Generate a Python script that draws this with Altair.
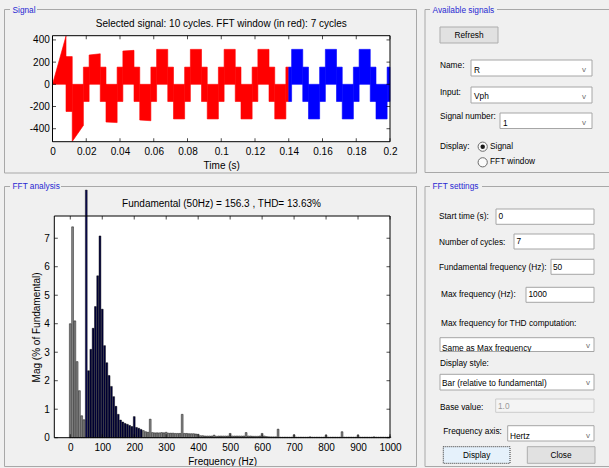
import altair as alt
import pandas as pd

# ------------------------------------------------------------------ data
# Selected signal: envelope of the PWM waveform.
# Segment i runs from sig_edges[i] to sig_edges[i+1]; the band between the
# low and the high envelope is filled (red = FFT window, blue = the rest).
sig_edges = [0.0, 0.008, 0.0117, 0.0183, 0.0217, 0.0283, 0.0317, 0.0383, 0.0417, 0.0483,
             0.0517, 0.0583, 0.0617, 0.0683, 0.0717, 0.0783, 0.0817, 0.0883, 0.0917, 0.0983,
             0.1017, 0.1083, 0.1117, 0.1183, 0.1217, 0.1283, 0.1317, 0.1383, 0.14, 0.1417,
             0.1483, 0.1517, 0.1583, 0.1617, 0.1683, 0.1717, 0.1783, 0.1817, 0.1883, 0.1917,
             0.1983, 0.2]
sig_hi_start = [0, 250, 0, 155, 264, 155, 0, 155, 300, 155,
                0, 155, 315, 155, 0, 155, 315, 155, 0, 155,
                315, 155, 0, 155, 315, 155, 0, 155, 155, 315,
                155, 0, 155, 315, 155, 0, 155, 315, 155, 0,
                155]
sig_hi_end = [435, 250, 0, 155, 275, 155, 0, 155, 306, 155,
              0, 155, 315, 155, 0, 155, 315, 155, 0, 155,
              315, 155, 0, 155, 315, 155, 0, 155, 155, 315,
              155, 0, 155, 315, 155, 0, 155, 315, 155, 0,
              155]
sig_lo_start = [0, -245, -515, -155, 0, -155, -340, -155, 0, -155,
                -322, -155, 0, -155, -312, -155, 0, -155, -312, -155,
                0, -155, -312, -155, 0, -155, -312, -155, -155, 0,
                -155, -312, -155, 0, -155, -312, -155, 0, -155, -312,
                -155]
sig_lo_end = [0, -245, -370, -155, 0, -155, -345, -155, 0, -155,
              -328, -155, 0, -155, -312, -155, 0, -155, -312, -155,
              0, -155, -312, -155, 0, -155, -312, -155, -155, 0,
              -155, -312, -155, 0, -155, -312, -155, 0, -155, -312,
              -155]
fft_window_end = 0.14

# FFT magnitudes (% of fundamental), bin k sits at k * 50/7 Hz (7-cycle window)
fund_freq = 50
n_cycles = 7
fft_mag = [4.0, 7.4, 4.1, 2.67, 1.65, 0.77, 0.63, 100.0,
           2.35, 3.1, 3.84, 4.6, 5.68, 7.08, 4.51, 3.23, 2.63, 2.18, 1.8, 1.44, 1.1,
           0.82, 0.62, 0.55, 0.5, 0.47, 0.43, 0.39, 0.74, 0.36, 0.33, 0.29, 0.25, 0.21, 0.19,
           0.65, 0.18, 0.17, 0.17, 0.17, 0.18, 0.17, 0.19, 0.16, 0.16, 0.16, 0.15, 0.15, 0.15, 0.82,
           0.15, 0.15, 0.14, 0.14, 0.14, 0.13, 0.12, 0.07, 0.07, 0.06, 0.06, 0.06, 0.06, 0.09,
           0.05, 0.06, 0.06, 0.06, 0.06, 0.06, 0.15, 0.06, 0.06, 0.06, 0.06, 0.06, 0.06, 0.18,
           0.06, 0.06, 0.05, 0.05, 0.05, 0.06, 0.15, 0.06, 0.04, 0.03, 0.03, 0.03, 0.03, 0.30,
           0.02, 0.02, 0.02, 0.02, 0.02, 0.02, 0.10, 0.02, 0.02, 0.02, 0.02, 0.02, 0.02, 0.03,
           0.02, 0.02, 0.02, 0.02, 0.02, 0.02, 0.09, 0.02, 0.02, 0.02, 0.02, 0.02, 0.02, 0.21,
           0.02, 0.02, 0.02, 0.02, 0.02, 0.02, 0.09, 0.02, 0.02, 0.02, 0.02, 0.02, 0.02, 0.03,
           0.02, 0.02, 0.02, 0.02, 0.02, 0.02, 0.03]
fund_visible_top = 8.69   # the fundamental bar runs off the axes up to the panel frame

sig_xticks = [0, 0.02, 0.04, 0.06, 0.08, 0.1, 0.12, 0.14, 0.16, 0.18, 0.2]
sig_yticks = [-400, -200, 0, 200, 400]
fft_xticks = [0, 100, 200, 300, 400, 500, 600, 700, 800, 900, 1000]
fft_yticks = [0, 1, 2, 3, 4, 5, 6, 7]

sig_title = "Selected signal: 10 cycles. FFT window (in red): 7 cycles"
fft_title = "Fundamental (50Hz) = 156.3 , THD= 13.63%"
panel_titles = ["Signal", "FFT analysis", "Available signals", "FFT settings"]

# ------------------------------------------------------------------ styles
PF = "Liberation Sans"
GF = "Liberation Sans"
GS = 8.3
BG = "#f0f0f0"
PANEL = "#a8a8a8"
BLUE_T = "#2828d2"
EDGE = "#a6a6a6"

one = pd.DataFrame({"k": [0]})


def box(x1, x2, y1, y2, fill=None, stroke=None, sw=1.0, dash=None):
    kw = {}
    if fill is None:
        kw["fillOpacity"] = 0
    else:
        kw["fill"] = fill
    if stroke is not None:
        kw["stroke"] = stroke
        kw["strokeWidth"] = sw
    if dash is not None:
        kw["strokeDash"] = dash
    return alt.Chart(one).mark_rect(**kw).encode(
        x=alt.value(x1), x2=alt.value(x2), y=alt.value(y1), y2=alt.value(y2))


def text(s, x, y, size=GS, align="left", color="#000000", font=GF):
    return alt.Chart(one).mark_text(
        text=s, align=align, baseline="middle", fontSize=size, color=color, font=font
    ).encode(x=alt.value(x), y=alt.value(y))


def axis(orient, values, offset, pad, title=None, tpad=0):
    kw = dict(orient=orient, values=values, offset=offset, domain=False, ticks=False,
              grid=False, labelFont=PF, labelFontSize=10, labelColor="#000000",
              labelPadding=pad, labelFlush=False, labelOverlap=False,
              labelExpr="'' + datum.value")
    if title:
        kw.update(title=title, titleFont=PF, titleFontSize=10, titleFontWeight="normal",
                  titleColor="#000000", titlePadding=tpad)
    else:
        kw["title"] = None
    return alt.Axis(**kw)


# plot rectangles (pixels inside the 609x468 window)
SX0, SX1, SY0, SY1 = 52.5, 390.0, 35.7, 141.7
FX0, FX1, FY0, FY1 = 54.3, 390.0, 216.0, 437.7

sig_x = alt.Scale(domain=[0, 0.2], range=[SX0, SX1], nice=False, zero=False)
sig_y = alt.Scale(domain=[-517, 438], range=[SY1, SY0], nice=False, zero=False)
fft_x = alt.Scale(domain=[-50, 1000], range=[FX0, FX1], nice=False, zero=False)
fft_y = alt.Scale(domain=[0, 7.78], range=[FY1, FY0], nice=False, zero=False)

layers = []

# ---- panels
layers += [
    box(4.5, 416.5, 9.5, 173, stroke=PANEL),
    box(4.5, 416.5, 186.5, 466.5, stroke=PANEL),
    box(425, 612, 9.5, 172.5, stroke=PANEL),
    box(425, 612, 186.5, 466.5, stroke=PANEL),
    box(10, 37, 5, 15, fill=BG),
    box(10, 61, 181, 192, fill=BG),
    box(430, 497, 5, 15, fill=BG),
    box(430, 482, 181, 192, fill=BG),
    text(panel_titles[0], 12.5, 10.5, color=BLUE_T),
    text(panel_titles[1], 12.5, 186.5, color=BLUE_T),
    text(panel_titles[2], 432.5, 10.7, color=BLUE_T),
    text(panel_titles[3], 432.5, 187.3, color=BLUE_T),
]

# ---- plot backgrounds
layers += [box(SX0, SX1, SY0, SY1, fill="#ffffff"), box(FX0, FX1, FY0, FY1, fill="#ffffff")]

# ---- signal
rows = []
for i in range(len(sig_edges) - 1):
    win = "window" if sig_edges[i + 1] <= fft_window_end + 1e-9 else "rest"
    rows.append({"seg": i, "t": sig_edges[i], "hi": sig_hi_start[i], "lo": sig_lo_start[i], "win": win})
    rows.append({"seg": i, "t": sig_edges[i + 1], "hi": sig_hi_end[i], "lo": sig_lo_end[i], "win": win})
sig_df = pd.DataFrame(rows)
win_scale = alt.Scale(domain=["window", "rest"], range=["#ff0000", "#0000ff"])
layers.append(
    alt.Chart(sig_df).mark_area(interpolate="linear", strokeWidth=0.6).encode(
        x=alt.X("t:Q", scale=sig_x, axis=axis("bottom", sig_xticks, SY1 - 468, 4.3, "Time (s)", 4)),
        y=alt.Y("hi:Q", scale=sig_y, axis=axis("left", sig_yticks, -SX0, 3.2)),
        y2="lo:Q",
        detail="seg:N",
        color=alt.Color("win:N", scale=win_scale, legend=None),
        stroke=alt.Stroke("win:N", scale=win_scale, legend=None),
    )
)

# ---- FFT bars
bin_hz = fund_freq / n_cycles
fft_df = pd.DataFrame({"k": list(range(len(fft_mag))), "mag": fft_mag})
fft_df["f0"] = fft_df["k"] * bin_hz - 0.4 * bin_hz
fft_df["f1"] = fft_df["k"] * bin_hz + 0.4 * bin_hz
fft_df["shown"] = fft_df["mag"].clip(upper=fund_visible_top)
fft_df["tone"] = ["fund" if k == n_cycles else ("navy" if n_cycles < k <= 31 else "gray")
                  for k in fft_df["k"]]
layers.append(
    alt.Chart(fft_df).mark_rect(stroke="#000000", strokeWidth=0.45).encode(
        x=alt.X("f0:Q", scale=fft_x, axis=axis("bottom", fft_xticks, FY1 - 468, 5.0, "Frequency (Hz)", 4)),
        x2="f1:Q",
        y=alt.Y("shown:Q", scale=fft_y, axis=axis("left", fft_yticks, -FX0, 5.0, "Mag (% of Fundamental)", 2)),
        y2=alt.datum(0),
        color=alt.Color("tone:N", scale=alt.Scale(domain=["gray", "navy", "fund"],
                                                  range=["#8a8a8a", "#00003c", "#0a0a55"]),
                        legend=None),
    )
)


# ---- inward ticks (MATLAB box style)
def xtick(vals, scale, ypx):
    return alt.Chart(pd.DataFrame({"v": vals})).mark_tick(
        orient="vertical", size=3.5, thickness=1, color="#000000"
    ).encode(x=alt.X("v:Q", scale=scale, axis=None), y=alt.value(ypx))


def ytick(vals, scale, xpx):
    return alt.Chart(pd.DataFrame({"v": vals})).mark_tick(
        orient="horizontal", size=3.5, thickness=1, color="#000000"
    ).encode(y=alt.Y("v:Q", scale=scale, axis=None), x=alt.value(xpx))


layers += [
    xtick(sig_xticks, sig_x, SY0 + 1.75), xtick(sig_xticks, sig_x, SY1 - 1.75),
    ytick(sig_yticks, sig_y, SX0 + 1.75), ytick(sig_yticks, sig_y, SX1 - 1.75),
    xtick(fft_xticks, fft_x, FY0 + 1.75), xtick(fft_xticks, fft_x, FY1 - 1.75),
    ytick(fft_yticks, fft_y, FX0 + 1.75), ytick(fft_yticks, fft_y, FX1 - 1.75),
    box(SX0, SX1, SY0, SY1, stroke="#000000"),
    box(FX0, FX1, FY0, FY1, stroke="#000000"),
    text(sig_title, (SX0 + SX1) / 2, 24.3, size=10, align="center", font=PF),
    text(fft_title, 221.5, 204.3, size=10, align="center", font=PF),
]

# ---- GUI widgets (right-hand panels)
white_boxes = [(471, 592, 60, 76), (471, 592, 87, 103), (500, 592, 113, 128.5),
               (496, 594, 209, 224.3), (514, 594, 234, 249), (551, 594, 259.3, 274.3),
               (526, 594, 287.3, 302.3), (440, 594, 337.7, 351.5), (440, 594, 374.3, 390),
               (507.7, 594, 425.7, 441)]
for b in white_boxes:
    layers.append(box(*b, fill="#ffffff", stroke=EDGE))
layers.append(box(495.7, 594, 399, 412.3, fill="#f4f4f4", stroke="#cccccc"))
layers += [
    box(440, 498, 27, 43, fill="#e1e1e1", stroke="#adadad"),
    box(443.3, 510, 446.7, 463.3, fill="#e5f1fb", stroke="#333333", dash=[1, 1]),
    box(527.3, 595, 446.7, 463.3, fill="#e1e1e1", stroke="#adadad"),
]

gui_texts = [
    ("Refresh", 469, 35.5, "center"), ("Name:", 440, 66, "left"), ("R", 474, 70.5, "left"),
    ("Input:", 440, 92.7, "left"), ("Vph", 474, 97, "left"),
    ("Signal number:", 440, 117, "left"), ("1", 503, 124, "left"),
    ("Display:", 440, 147, "left"), ("Signal", 490, 146.7, "left"),
    ("FFT window", 490, 162.3, "left"),
    ("Start time (s):", 439, 217.3, "left"), ("0", 498.5, 217, "left"),
    ("Number of cycles:", 439, 242.7, "left"), ("7", 516.5, 242, "left"),
    ("Fundamental frequency (Hz):", 439, 268.3, "left"), ("50", 553, 267.5, "left"),
    ("Max frequency (Hz):", 441, 295, "left"), ("1000", 528.5, 295, "left"),
    ("Max frequency for THD computation:", 441, 324.3, "left"),
    ("Same as Max frequency", 442, 348.5, "left"),
    ("Display style:", 440, 364.3, "left"),
    ("Bar (relative to fundamental)", 442, 384.3, "left"),
    ("Base value:", 440, 407.7, "left"),
    ("Frequency axis:", 443.3, 431.7, "left"), ("Hertz", 510, 436.7, "left"),
    ("Display", 476.7, 455.5, "center"), ("Close", 561, 455.5, "center"),
]
for s, x, y, a in gui_texts:
    layers.append(text(s, x, y, align=a))
layers.append(text("1.0", 498, 407, color="#9a9a9a"))
# descenders of the THD drop-down are cut by its frame
layers.append(box(438, 597, 352, 357, fill=BG))

chevrons = [(584, 69.5), (584, 96.5), (584, 122.5), (588, 345.5), (588, 383.3), (588, 436)]
for cx, cy in chevrons:
    layers.append(text("v", cx, cy, size=8, align="center", color="#707070", font=PF))

# radio buttons
layers += [
    alt.Chart(one).mark_point(shape="circle", size=85, filled=True, fill="#ffffff",
                              stroke="#333333", strokeWidth=1).encode(
        x=alt.value(482.7), y=alt.value(146.7)),
    alt.Chart(one).mark_point(shape="circle", size=85, filled=True, fill="#ffffff",
                              stroke="#333333", strokeWidth=1).encode(
        x=alt.value(482.7), y=alt.value(162.3)),
    alt.Chart(one).mark_circle(size=20, color="#1a1a1a", opacity=1).encode(
        x=alt.value(482.7), y=alt.value(146.7)),
]

chart = alt.layer(*layers).resolve_scale(
    x="independent", y="independent", color="independent", stroke="independent"
).properties(
    width=609, height=468, background=BG, padding=0,
    autosize=alt.AutoSizeParams(type="none"),
).configure_view(strokeWidth=0)

chart.save("out.html", embed_options={"renderer": "svg", "actions": False})
